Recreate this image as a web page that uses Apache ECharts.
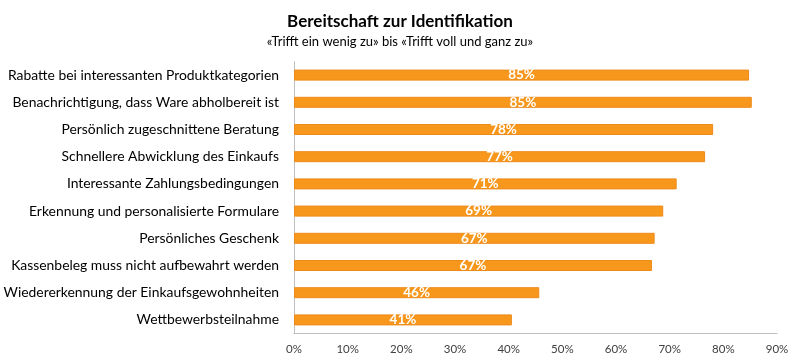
<!DOCTYPE html>
<html><head><meta charset="utf-8">
<script src="https://cdn.jsdelivr.net/npm/echarts@6/dist/echarts.min.js"></script>
<style>html,body{margin:0;padding:0;background:#fff}#c{width:800px;height:363px}</style>
</head><body><div id="c"></div>
<script>
const categories = [
  "Rabatte bei interessanten Produktkategorien",
  "Benachrichtigung, dass Ware abholbereit ist",
  "Persönlich zugeschnittene Beratung",
  "Schnellere Abwicklung des Einkaufs",
  "Interessante Zahlungsbedingungen",
  "Erkennung und personalisierte Formulare",
  "Persönliches Geschenk",
  "Kassenbeleg muss nicht aufbewahrt werden",
  "Wiedererkennung der Einkaufsgewohnheiten",
  "Wettbewerbsteilnahme"
];
const values = [84.8, 85.3, 78.1, 76.6, 71.3, 68.8, 67.2, 66.7, 45.7, 40.6];
const axisMax = 90;
const axisInterval = 10;
const titleText = "Bereitschaft zur Identifikation";
const subtitleText = "«Trifft ein wenig zu» bis «Trifft voll und ganz zu»";

const font = "Lato, 'Open Sans', sans-serif";
const chart = echarts.init(document.getElementById('c'), null, {renderer:'canvas'});
chart.setOption({
  animation: false,
  title: {
    text: titleText, subtext: subtitleText, left: 'center', top: 8, itemGap: 5,
    textStyle: {fontFamily: font, fontSize: 17, fontWeight: 'bold', color: '#000'},
    subtextStyle: {fontFamily: font, fontSize: 13, color: '#000'}
  },
  grid: {left: 294, right: 23, top: 61.5, bottom: 29.5, containLabel: false},
  xAxis: {
    type: 'value', min: 0, max: axisMax, interval: axisInterval,
    axisLine: {show: true, lineStyle: {color: '#BFBFBF', width: 1}},
    axisTick: {show: false},
    splitLine: {show: false},
    axisLabel: {formatter: '{value}%', fontFamily: font, fontSize: 11.5, color: '#404040', margin: 10}
  },
  yAxis: {
    type: 'category', data: categories, inverse: true,
    axisLine: {show: true, lineStyle: {color: '#BFBFBF', width: 1}},
    axisTick: {show: false},
    axisLabel: {fontFamily: font, fontSize: 13.9, color: '#000', margin: 15}
  },
  series: [{
    type: 'bar', data: values, barWidth: 11,
    itemStyle: {color: '#F7981D', borderColor: '#EE8A1A', borderWidth: 1},
    label: {
      show: true, position: 'inside', color: '#fff', fontFamily: font, fontWeight: 'bold', fontSize: 13.5,
      formatter: p => Math.round(p.value) + '%'
    }
  }]
});
</script></body></html>
